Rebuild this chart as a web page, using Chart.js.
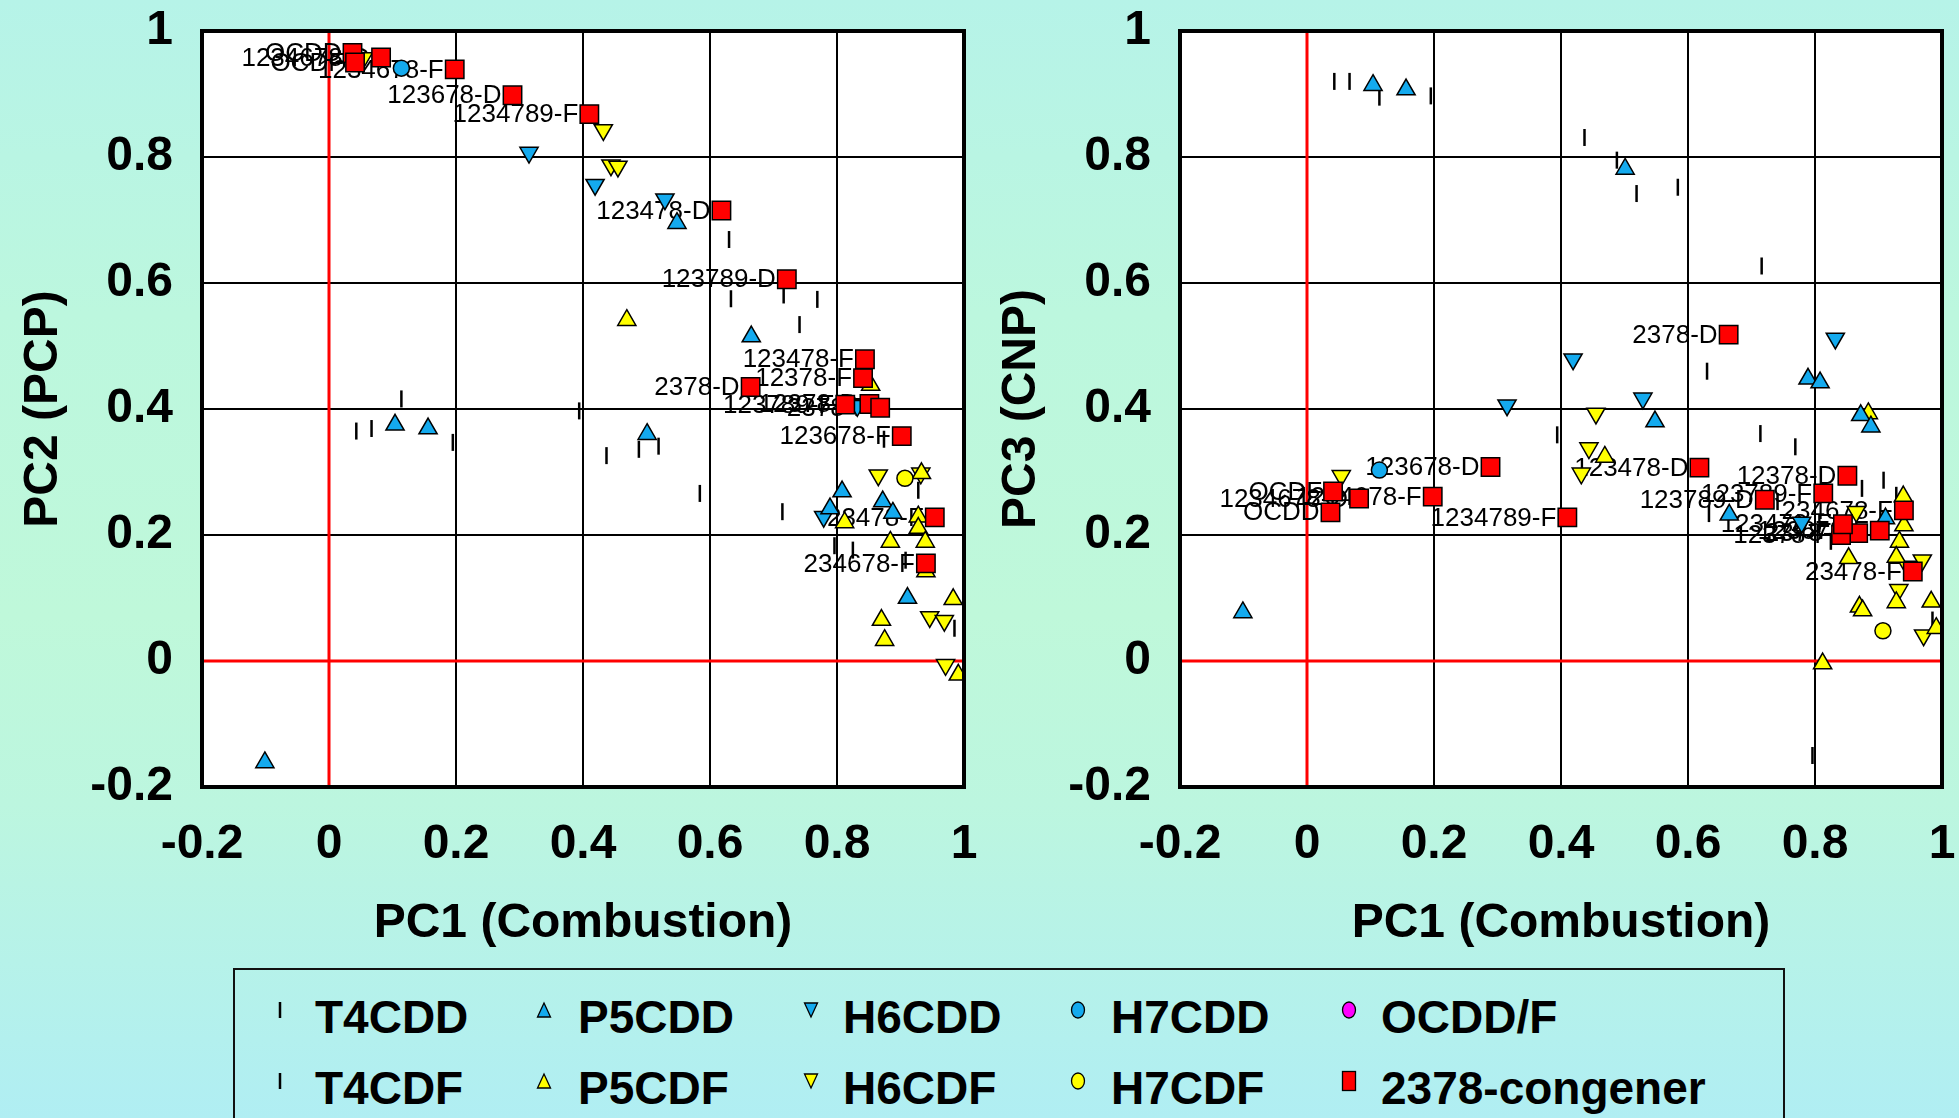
<!DOCTYPE html>
<html lang="en">
<head>
<meta charset="UTF-8">
<title>PCA loadings</title>
<script src="https://cdn.jsdelivr.net/npm/chart.js"></script>
<style>
  html, body { margin: 0; padding: 0; }
  body {
    width: 1959px; height: 1118px; overflow: hidden; position: relative;
    background: linear-gradient(to bottom, #b6f3e8 0%, #bcf7de 28%, #bff8da 55%, #bcf6df 72%, #b0eef3 100%);
    font-family: 'Liberation Sans', Arial, sans-serif;
  }
  .chart-box { position: absolute; top: 0; height: 960px; }
  #leftBox { left: 0; width: 995px; }
  #rightBox { left: 980px; width: 979px; }
  .legend { position: absolute; left: 233px; top: 968px; width: 1548px; height: 170px; border: 2px solid #111; }
  .mk { position: absolute; }
  .txt { position: absolute; font-weight: bold; font-size: 46px; line-height: 46px; color: #000; white-space: nowrap; }
</style>
</head>
<body>
  <div class="chart-box" id="leftBox"><canvas id="pc2Chart"></canvas></div>
  <div class="chart-box" id="rightBox"><canvas id="pc3Chart"></canvas></div>
  <div id="legendArea"></div>

<script>
  // axis ticks
  const tickValues = [-0.2, 0, 0.2, 0.4, 0.6, 0.8, 1];

  // 2378-substituted congeners (labelled points)
  const congenerNames = ['2378-D', '12378-D', '123478-D', '123678-D', '123789-D', '1234678-D', 'OCDD',
    '2378-F', '12378-F', '23478-F', '123478-F', '123678-F', '123789-F', '234678-F', '1234678-F', '1234789-F', 'OCDF'];
  const congenerPC1 = [0.664, 0.851, 0.618, 0.289, 0.721, 0.082, 0.037, 0.868, 0.841, 0.954, 0.844, 0.902, 0.813, 0.940, 0.198, 0.410, 0.041];
  const congenerPC2 = [0.435, 0.408, 0.715, 0.898, 0.606, 0.958, 0.965, 0.402, 0.449, 0.228, 0.479, 0.357, 0.407, 0.155, 0.939, 0.868, 0.950];
  const congenerPC3 = [0.518, 0.294, 0.307, 0.308, 0.256, 0.258, 0.236, 0.203, 0.200, 0.142, 0.217, 0.207, 0.266, 0.239, 0.261, 0.228, 0.269];

  // T4CDD / T4CDF
  const t4cddPC1 = [0.043, 0.067, 0.114, 0.195, 0.394, 0.437, 0.488, 0.519, 0.584, 0.630];
  const t4cddPC2 = [0.365, 0.369, 0.416, 0.347, 0.397, 0.326, 0.336, 0.341, 0.266, 0.669];
  const t4cddPC3 = [0.920, 0.920, 0.895, 0.897, 0.359, 0.831, 0.795, 0.742, 0.752, 0.460];
  const t4cdfPC1 = [0.633, 0.716, 0.714, 0.741, 0.769, 0.796, 0.825, 0.874, 0.908, 0.928, 0.985];
  const t4cdfPC2 = [0.575, 0.581, 0.237, 0.534, 0.574, 0.183, 0.176, 0.352, 0.160, 0.271, 0.052];
  const t4cdfPC3 = [0.234, 0.627, 0.361, 0.253, 0.340, -0.150, 0.190, 0.274, 0.287, 0.263, 0.065];

  // P5CDD / P5CDF
  const p5cddPC1 = [-0.101, 0.104, 0.156, 0.501, 0.548, 0.665, 0.789, 0.808, 0.872, 0.888, 0.911];
  const p5cddPC2 = [-0.161, 0.375, 0.369, 0.360, 0.695, 0.515, 0.242, 0.269, 0.253, 0.235, 0.100];
  const p5cddPC3 = [0.077, 0.914, 0.907, 0.781, 0.380, 0.232, 0.448, 0.442, 0.390, 0.372, 0.226];
  const p5cdfPC1 = [0.469, 0.853, 0.812, 0.933, 0.928, 0.928, 0.884, 0.939, 0.940, 0.983, 0.870, 0.875, 0.991];
  const p5cdfPC2 = [0.541, 0.438, 0.220, 0.298, 0.229, 0.211, 0.189, 0.189, 0.142, 0.098, 0.065, 0.033, -0.022];
  const p5cdfPC3 = [0.324, 0.163, -0.004, 0.189, 0.165, 0.093, 0.393, 0.261, 0.215, 0.094, 0.086, 0.080, 0.052];

  // H6CDD / H6CDF
  const h6cddPC1 = [0.315, 0.419, 0.529, 0.779, 0.832];
  const h6cddPC2 = [0.807, 0.756, 0.733, 0.229, 0.405];
  const h6cddPC3 = [0.406, 0.479, 0.417, 0.220, 0.512];
  const h6cdfPC1 = [0.054, 0.432, 0.444, 0.455, 0.865, 0.932, 0.946, 0.969, 0.971];
  const h6cdfPC2 = [0.957, 0.843, 0.787, 0.785, 0.295, 0.298, 0.070, 0.064, -0.006];
  const h6cdfPC3 = [0.294, 0.298, 0.338, 0.393, 0.237, 0.113, 0.150, 0.160, 0.041];

  // H7CDD / H7CDF / OCDD/F
  const h7cddPC1 = [0.114];
  const h7cddPC2 = [0.941];
  const h7cddPC3 = [0.303];
  const h7cdfPC1 = [0.907];
  const h7cdfPC2 = [0.290];
  const h7cdfPC3 = [0.048];
  const ocddfPC1 = [];
  const ocddfPC2 = [];
  const ocddfPC3 = [];

  const BLUE = '#14aaee';
  const YELLOW = '#ffff00';
  const FONT = "'Liberation Sans', Arial, sans-serif";

  function pts(xs, ys) {
    return xs.map((x, i) => ({ x: x, y: ys[i] }));
  }

  function buildDatasets(which) {
    const pick = (a2, a3) => which === 2 ? a2 : a3;
    const bar = { pointStyle: 'line', rotation: 90, pointRadius: 8.5, borderColor: '#000', borderWidth: 2.5, order: 3 };
    const up = { pointStyle: 'triangle', pointRadius: 10.5, borderColor: '#000', borderWidth: 1.5, order: 2 };
    const down = { pointStyle: 'triangle', rotation: 180, pointRadius: 10.5, borderColor: '#000', borderWidth: 1.5, order: 2 };
    const dot = { pointStyle: 'circle', pointRadius: 8, borderColor: '#000', borderWidth: 1.5, order: 1 };
    return [
      Object.assign({ label: '2378-congener', data: pts(congenerPC1, pick(congenerPC2, congenerPC3)),
        pointStyle: 'rect', pointRadius: 13, backgroundColor: '#ff0000', borderColor: '#000', borderWidth: 1.5, order: 0,
        pointLabels: congenerNames }),
      Object.assign({ label: 'T4CDD', data: pts(t4cddPC1, pick(t4cddPC2, t4cddPC3)) }, bar),
      Object.assign({ label: 'T4CDF', data: pts(t4cdfPC1, pick(t4cdfPC2, t4cdfPC3)) }, bar),
      Object.assign({ label: 'P5CDD', data: pts(p5cddPC1, pick(p5cddPC2, p5cddPC3)), backgroundColor: BLUE }, up),
      Object.assign({ label: 'P5CDF', data: pts(p5cdfPC1, pick(p5cdfPC2, p5cdfPC3)), backgroundColor: YELLOW }, up),
      Object.assign({ label: 'H6CDD', data: pts(h6cddPC1, pick(h6cddPC2, h6cddPC3)), backgroundColor: BLUE }, down),
      Object.assign({ label: 'H6CDF', data: pts(h6cdfPC1, pick(h6cdfPC2, h6cdfPC3)), backgroundColor: YELLOW }, down),
      Object.assign({ label: 'H7CDD', data: pts(h7cddPC1, pick(h7cddPC2, h7cddPC3)), backgroundColor: BLUE }, dot),
      Object.assign({ label: 'H7CDF', data: pts(h7cdfPC1, pick(h7cdfPC2, h7cdfPC3)), backgroundColor: YELLOW }, dot),
      Object.assign({ label: 'OCDD/F', data: pts(ocddfPC1, pick(ocddfPC2, ocddfPC3)), backgroundColor: '#ff00ff' }, dot)
    ];
  }

  // white plot area, red zero lines, black frame
  const framePlugin = {
    id: 'plotFrame',
    beforeDraw(chart) {
      const a = chart.chartArea, ctx = chart.ctx;
      ctx.save();
      ctx.fillStyle = '#fff';
      ctx.fillRect(a.left, a.top, a.right - a.left, a.bottom - a.top);
      ctx.restore();
    },
    beforeDatasetsDraw(chart) {
      const a = chart.chartArea, ctx = chart.ctx;
      const x0 = chart.scales.x.getPixelForValue(0);
      const y0 = chart.scales.y.getPixelForValue(0);
      ctx.save();
      ctx.strokeStyle = '#ff0000';
      ctx.lineWidth = 3;
      ctx.beginPath();
      ctx.moveTo(x0, a.top); ctx.lineTo(x0, a.bottom);
      ctx.moveTo(a.left, y0); ctx.lineTo(a.right, y0);
      ctx.stroke();
      ctx.restore();
    },
    afterDraw(chart) {
      const a = chart.chartArea, ctx = chart.ctx;
      ctx.save();
      ctx.strokeStyle = '#000';
      ctx.lineWidth = 4;
      ctx.strokeRect(a.left, a.top, a.right - a.left, a.bottom - a.top);
      ctx.restore();
    }
  };

  // names of the 2378-congeners, right-aligned just left of each square
  const labelPlugin = {
    id: 'congenerLabels',
    beforeDatasetsDraw(chart) {
      const ctx = chart.ctx;
      chart.data.datasets.forEach((ds, i) => {
        if (!ds.pointLabels) return;
        const meta = chart.getDatasetMeta(i);
        ctx.save();
        ctx.font = '26px ' + FONT;
        ctx.fillStyle = '#000';
        ctx.textAlign = 'right';
        ctx.textBaseline = 'middle';
        meta.data.forEach((p, j) => ctx.fillText(ds.pointLabels[j], p.x - 11, p.y + 1));
        ctx.restore();
      });
    }
  };

  function makeChart(canvasId, which, yTitle, yAxisWidth, yTitlePad, padRight) {
    const tickFont = { family: FONT, size: 48, weight: 'bold' };
    const fmt = (v) => String(Math.round(v * 10) / 10);
    return new Chart(document.getElementById(canvasId), {
      type: 'scatter',
      data: { datasets: buildDatasets(which) },
      options: {
        responsive: true,
        maintainAspectRatio: false,
        animation: false,
        events: [],
        layout: { padding: { left: 0, top: 31, right: padRight, bottom: 0 } },
        plugins: { legend: { display: false }, tooltip: { enabled: false } },
        scales: {
          x: {
            type: 'linear', min: tickValues[0], max: tickValues[tickValues.length - 1],
            afterBuildTicks: (s) => { s.ticks = tickValues.map(v => ({ value: v })); },
            ticks: { padding: 29, color: '#000', font: tickFont, callback: fmt, autoSkip: false, maxRotation: 0 },
            grid: { color: '#000', lineWidth: 2, drawTicks: false },
            border: { display: false },
            title: { display: true, text: 'PC1 (Combustion)', color: '#000', font: tickFont, padding: { top: 0, bottom: 7 } },
            // fixed axis band; edge-label padding is handled by the layout padding instead
            afterFit: (s) => { s.height = 173; s.paddingLeft = 0; s.paddingRight = 0; }
          },
          y: {
            type: 'linear', min: tickValues[0], max: tickValues[tickValues.length - 1],
            afterBuildTicks: (s) => { s.ticks = tickValues.map(v => ({ value: v })); },
            ticks: { padding: 29, color: '#000', font: tickFont, callback: fmt, autoSkip: false },
            grid: { color: '#000', lineWidth: 2, drawTicks: false },
            border: { display: false },
            title: { display: true, text: yTitle, color: '#000', font: tickFont, padding: { top: yTitlePad, bottom: 0 } },
            afterFit: (s) => { s.width = yAxisWidth; s.paddingTop = 0; s.paddingBottom = 0; }
          }
        }
      },
      plugins: [framePlugin, labelPlugin]
    });
  }

  makeChart('pc2Chart', 2, 'PC2 (PCP)', 202, 15, 31);
  makeChart('pc3Chart', 3, 'PC3 (CNP)', 200, 13, 17);

  // legend: two rows of five entries
  const legendEntries = [
    { name: 'T4CDD', shape: 'bar', fill: '#000', col: 0, row: 0 },
    { name: 'P5CDD', shape: 'up', fill: BLUE, col: 1, row: 0 },
    { name: 'H6CDD', shape: 'down', fill: BLUE, col: 2, row: 0 },
    { name: 'H7CDD', shape: 'dot', fill: BLUE, col: 3, row: 0 },
    { name: 'OCDD/F', shape: 'dot', fill: '#ff00ff', col: 4, row: 0 },
    { name: 'T4CDF', shape: 'bar', fill: '#000', col: 0, row: 1 },
    { name: 'P5CDF', shape: 'up', fill: YELLOW, col: 1, row: 1 },
    { name: 'H6CDF', shape: 'down', fill: YELLOW, col: 2, row: 1 },
    { name: 'H7CDF', shape: 'dot', fill: YELLOW, col: 3, row: 1 },
    { name: '2378-congener', shape: 'square', fill: '#ff0000', col: 4, row: 1 }
  ];
  const markerX = [280, 544, 811, 1078, 1349];
  const textX = [315, 578, 843, 1111, 1381];
  const rowY = [1016, 1087];

  function markerSvg(shape, fill) {
    const s = 'stroke="#000" stroke-width="1.3"';
    if (shape === 'bar') return '<svg width="6" height="18"><line x1="3" y1="1" x2="3" y2="17" stroke="#000" stroke-width="2.5"/></svg>';
    if (shape === 'up') return '<svg width="16" height="18"><polygon points="8,2 14.5,16 1.5,16" fill="' + fill + '" ' + s + '/></svg>';
    if (shape === 'down') return '<svg width="16" height="18"><polygon points="1.5,2 14.5,2 8,16" fill="' + fill + '" ' + s + '/></svg>';
    if (shape === 'dot') return '<svg width="16" height="20"><ellipse cx="8" cy="10" rx="6.5" ry="8" fill="' + fill + '" ' + s + '/></svg>';
    return '<svg width="16" height="22"><rect x="1.5" y="1.5" width="13" height="19" fill="' + fill + '" ' + s + '/></svg>';
  }

  const legendArea = document.getElementById('legendArea');
  let html = '<div class="legend"></div>';
  legendEntries.forEach(e => {
    const sizes = { bar: [6, 18], up: [16, 18], down: [16, 18], dot: [16, 20], square: [16, 22] }[e.shape];
    const cy = rowY[e.row] - 6;
    html += '<div class="mk" style="left:' + (markerX[e.col] - sizes[0] / 2) + 'px;top:' + (cy - sizes[1] / 2) + 'px">' +
      markerSvg(e.shape, e.fill) + '</div>';
    html += '<div class="txt" style="left:' + textX[e.col] + 'px;top:' + (rowY[e.row] - 22) + 'px">' + e.name + '</div>';
  });
  legendArea.innerHTML = html;
</script>
</body>
</html>
